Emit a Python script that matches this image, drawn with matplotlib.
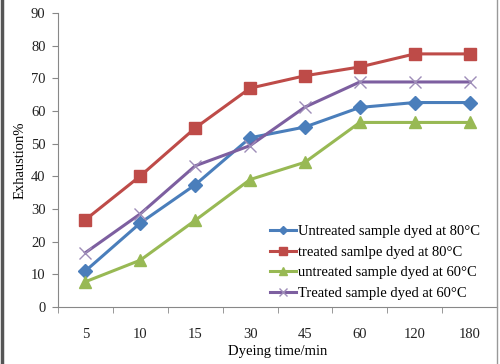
import matplotlib
matplotlib.use("Agg")
import matplotlib.pyplot as plt
from matplotlib.lines import Line2D

categories = ["5", "10", "15", "30", "45", "60", "120", "180"]
untreated_80 = [11.0, 25.7, 37.4, 51.8, 55.1, 61.1, 62.6, 62.6]
treated_80 = [26.7, 40.1, 54.8, 67.0, 70.8, 73.5, 77.5, 77.5]
untreated_60 = [7.7, 14.3, 26.5, 39.0, 44.3, 56.5, 56.5, 56.5]
treated_60 = [16.6, 28.5, 43.2, 49.4, 61.2, 68.9, 68.9, 68.9]

labels = ["Untreated sample dyed at 80\u00b0C",
          "treated samlpe dyed at 80\u00b0C",
          "untreated sample dyed at 60\u00b0C",
          "Treated sample dyed at 60\u00b0C"]

plt.rcParams['font.family'] = ['Liberation Serif', 'DejaVu Serif']

fig = plt.figure(figsize=(5.0, 3.64), dpi=100)
ax = fig.add_axes([0.116, 0.157, 0.878, 0.807])

x = list(range(len(categories)))
series = [
    (untreated_80, "#4A7EBB", "D", 7, 2.2),
    (treated_80, "#BE4B48", "s", 8.5, 2.2),
    (untreated_60, "#98B954", "^", 9, 2.2),
    (treated_60, "#7D5FA0", "x", 9, 2.2),
]
for (vals, col, mk, ms, lw), lab in zip(series, labels):
    if mk == "x":
        ax.plot(x, vals, color=col, lw=lw, marker=mk, markersize=ms,
                markeredgewidth=1.0, markeredgecolor="#9E8DB8", label=lab)
    else:
        ax.plot(x, vals, color=col, lw=lw, marker=mk, markersize=ms, label=lab)

ax.set_xlim(-0.5, len(categories) - 0.5)
ax.set_ylim(0, 90)
ax.set_yticks(range(0, 91, 10))
ax.set_xticks(x)
ax.set_xticklabels(categories)
ax.set_xticks([i - 0.5 for i in range(len(categories) + 1)], minor=True)
ax.tick_params(axis='x', which='major', length=0, pad=15, labelsize=10.5, colors="#222222")
ax.tick_params(axis='x', which='minor', length=4, direction='out', color="#888888")
ax.tick_params(axis='y', length=4, direction='out', color="#888888", labelsize=10.5,
               labelcolor="#222222", pad=5)

for s in ['top', 'right']:
    ax.spines[s].set_visible(False)
for s in ['left', 'bottom']:
    ax.spines[s].set_color("#888888")
    ax.spines[s].set_linewidth(0.8)

ax.set_xlabel("Dyeing time/min", fontsize=10.5, labelpad=3)
ax.set_ylabel("Exhaustion%", fontsize=10.5, labelpad=3)

leg = ax.legend(loc='upper left', bbox_to_anchor=(0.483, 0.278), frameon=False,
                fontsize=10.5, handlelength=1.75, handletextpad=0.2,
                labelspacing=0.5, borderaxespad=0, borderpad=0, markerscale=0.6)

# figure border lines (left dark, right grey)
fig.add_artist(Line2D([0.003, 0.003], [0, 1], color="#555555", lw=2.5))
fig.add_artist(Line2D([0.993, 0.993], [0, 1], color="#999999", lw=1.0))

fig.savefig("out.png", dpi=100)
